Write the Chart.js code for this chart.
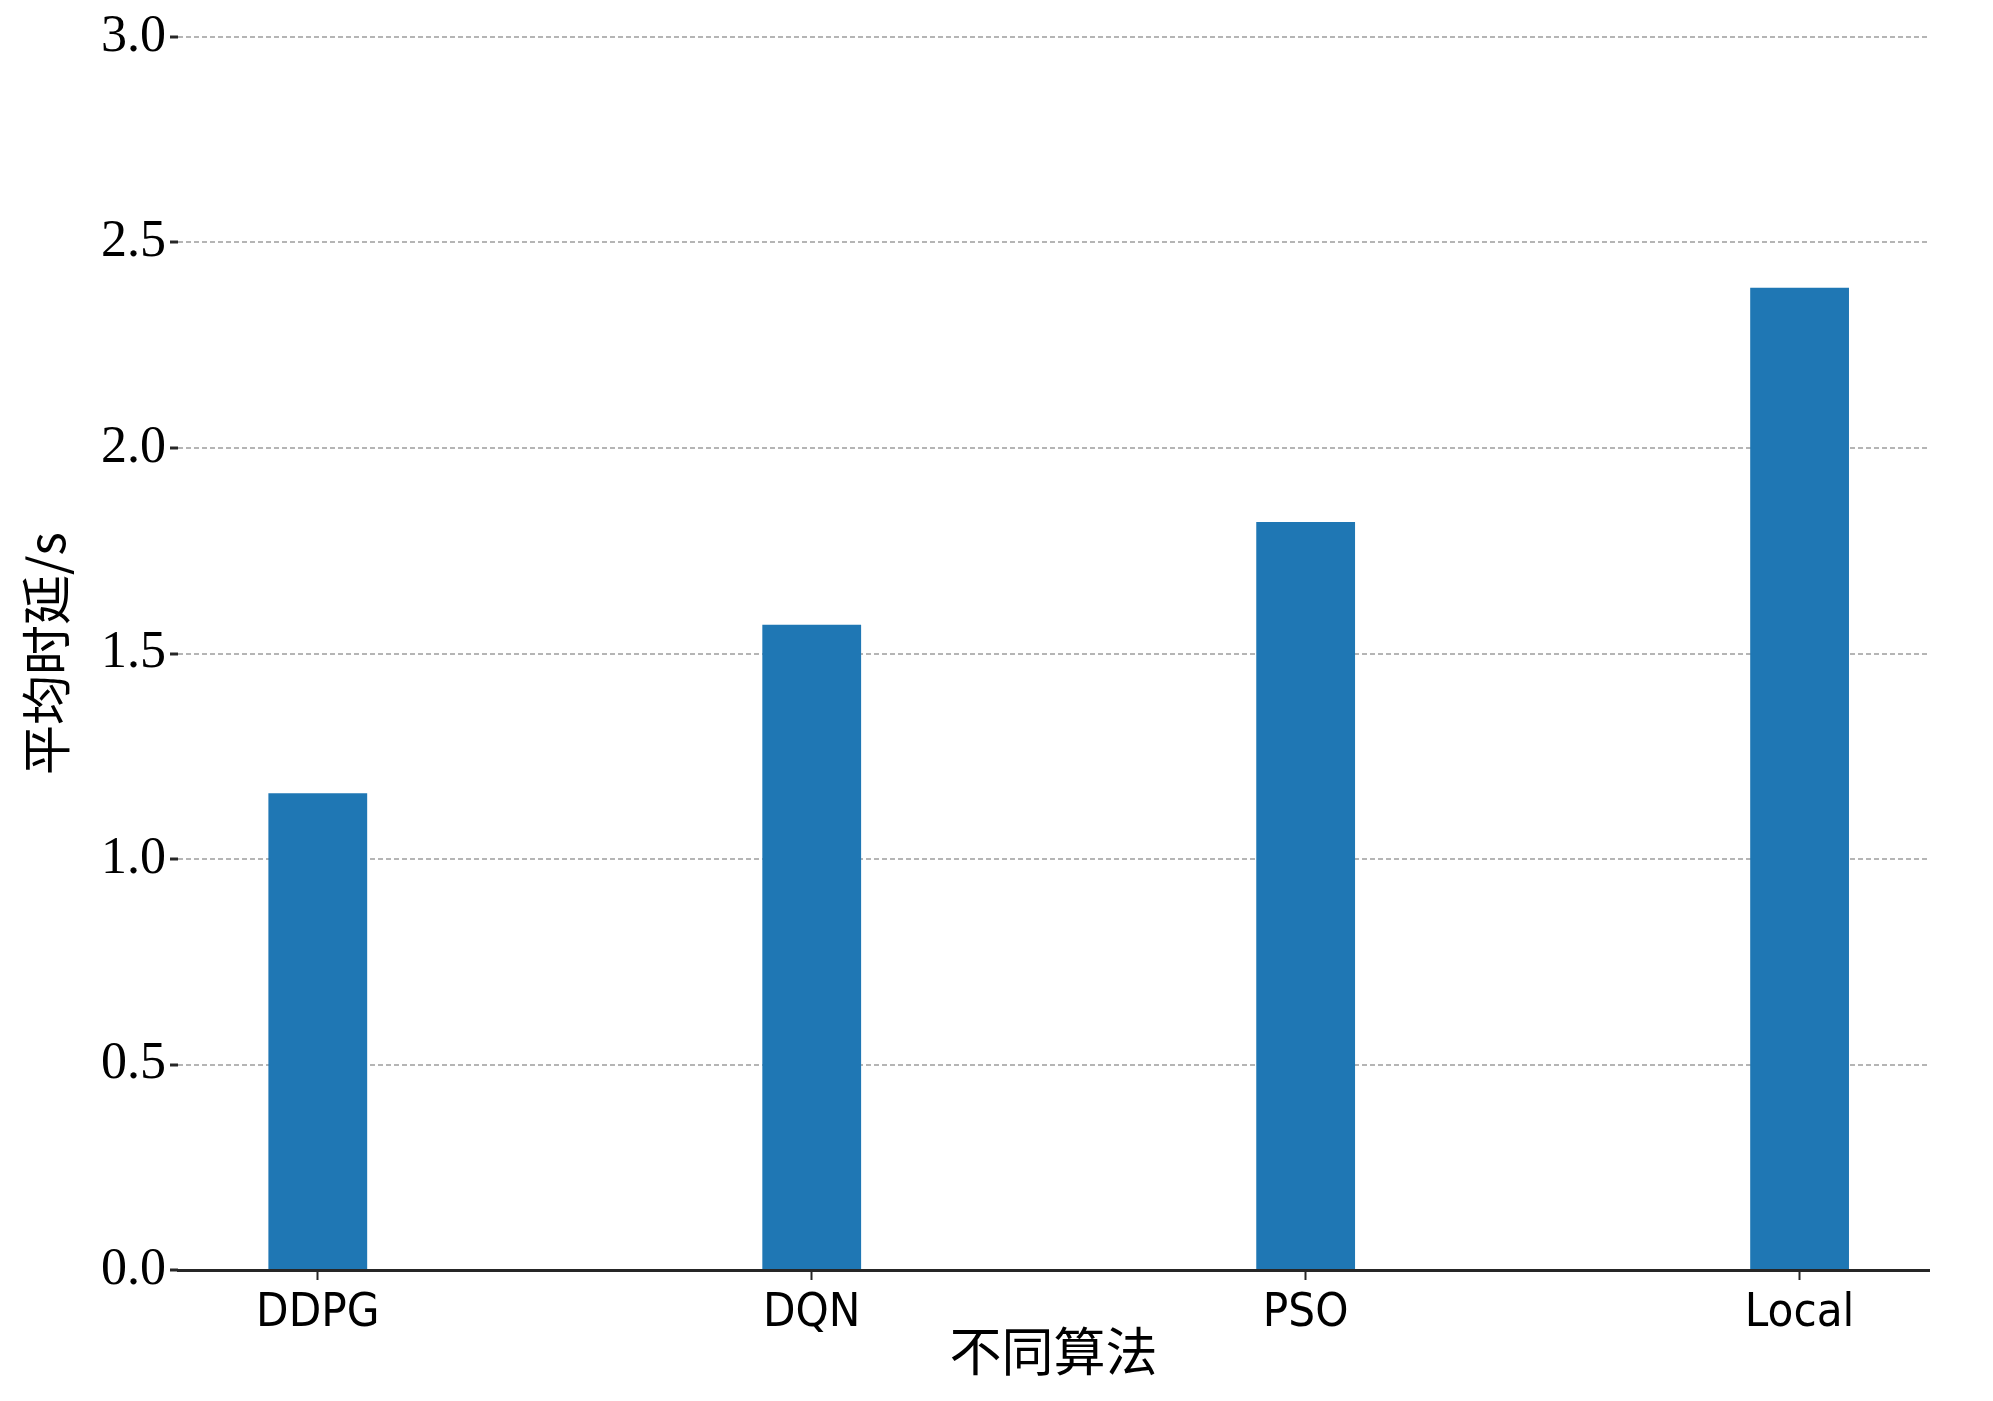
<!DOCTYPE html>
<html>
<head>
<meta charset="utf-8">
<script src="https://cdn.jsdelivr.net/npm/chart.js@4/dist/chart.umd.min.js"></script>
<style>
  html, body { margin: 0; padding: 0; background: #fff; }
  #wrap { width: 1993px; height: 1401px; }
</style>
</head>
<body>
<div id="wrap"><canvas id="delayChart" width="1993" height="1401"></canvas></div>
<script>
// categories and values
const algorithms = ['DDPG', 'DQN', 'PSO', 'Local'];
const avgDelay = [1.16, 1.57, 1.82, 2.39];
const yTicks = [0.0, 0.5, 1.0, 1.5, 2.0, 2.5, 3.0];

const barBlue = '#1f77b4';
const axisDark = '#262626';
const gridGrey = '#b5b5b5';

const ctx = document.getElementById('delayChart').getContext('2d');
new Chart(ctx, {
    type: 'bar',
    data: {
        datasets: [{
            label: '平均时延',
            data: algorithms.map((a, i) => ({ x: i, y: avgDelay[i] })),
            backgroundColor: barBlue,
            borderWidth: 0,
            barPercentage: 0.2,
            categoryPercentage: 1.0
        }]
    },
    options: {
        responsive: false,
        animation: false,
        layout: { padding: { top: 37, right: 64, left: 0, bottom: 19 } },
        plugins: { legend: { display: false }, tooltip: { enabled: false } },
        scales: {
            x: {
                type: 'linear',
                min: -0.283,
                max: 3.262,
                offset: false,
                afterBuildTicks: axis => { axis.ticks = algorithms.map((a, i) => ({ value: i })); },
                afterFit: axis => { axis.height = 112; },
                ticks: {
                    callback: v => algorithms[v],
                    color: '#000',
                    padding: 6,
                    maxRotation: 0,
                    // condensed face, like the narrow labels of the original
                    font: { family: "'DejaVu Sans', sans-serif", weight: 'condensed', size: 47 }
                },
                grid: { offset: false, drawOnChartArea: false, drawTicks: true, tickLength: 10, tickColor: axisDark, tickWidth: 2, tickBorderDash: [] },
                border: { display: true, color: axisDark, width: 3 },
                title: {
                    display: true,
                    text: '不同算法',
                    color: '#000',
                    padding: { top: 14, bottom: 0 },
                    font: { family: "'Noto Sans CJK SC', sans-serif", size: 52 }
                }
            },
            y: {
                min: 0,
                max: 3,
                afterBuildTicks: axis => { axis.ticks = yTicks.map(v => ({ value: v })); },
                afterFit: axis => { axis.width = 178; },
                ticks: {
                    callback: v => v.toFixed(1),
                    color: '#000',
                    padding: 4,
                    font: { family: "'Liberation Serif', 'DejaVu Serif', serif", size: 52 }
                },
                grid: {
                    color: gridGrey,
                    lineWidth: 2,
                    borderDash: [5, 3],
                    drawTicks: true,
                    tickLength: 8,
                    tickColor: axisDark,
                    tickWidth: 3,
                    tickBorderDash: []
                },
                border: { display: false, dash: [5, 3] },
                title: {
                    display: true,
                    text: '平均时延/s',
                    color: '#000',
                    padding: { top: 16, bottom: 0 },
                    font: { family: "'Noto Sans CJK SC', sans-serif", size: 50 }
                }
            }
        }
    }
});
</script>
</body>
</html>
